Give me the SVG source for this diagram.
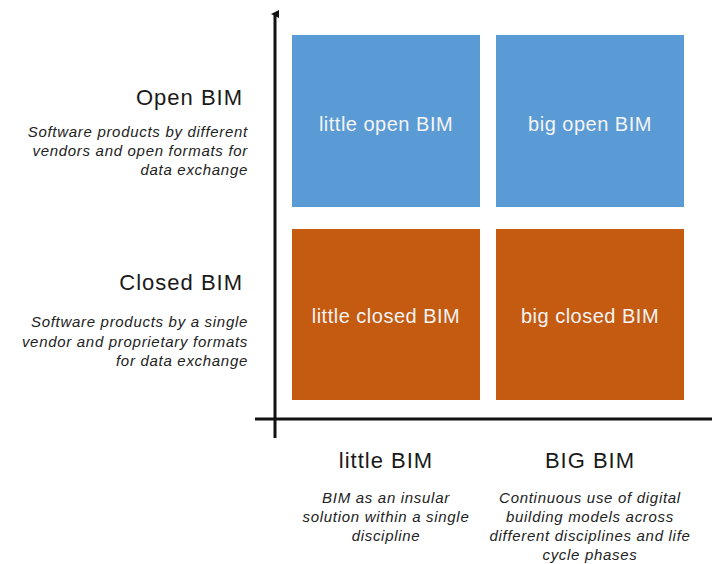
<svg xmlns="http://www.w3.org/2000/svg" width="712" height="564" viewBox="0 0 712 564">
<defs>
<style>
.h{font-family:"Liberation Sans",Arial,sans-serif;font-size:22px;letter-spacing:1px;fill:#1a1a1a}
.d{font-family:"Liberation Sans",Arial,sans-serif;font-size:15px;letter-spacing:0.7px;font-style:italic;fill:#222}
.b{font-family:"Liberation Sans",Arial,sans-serif;font-size:20px;letter-spacing:0.5px;fill:#f4f4f4;text-anchor:middle}
.blue{fill:#5b9bd5}
.orange{fill:#c55a11}
.ax{stroke:#111;stroke-width:3;fill:none}
</style>
<marker id="arr" markerWidth="8" markerHeight="8" refX="4" refY="4" orient="auto" markerUnits="userSpaceOnUse">
<path d="M0,8 L4,0 L8,8 Z" fill="#111"/>
</marker>
</defs>
<rect width="712" height="564" fill="#fff"/>
<g id="connectors">
<line class="ax" x1="275" y1="438" x2="275" y2="14" marker-end="url(#arr)"/>
<line class="ax" x1="255" y1="419" x2="712" y2="419"/>
</g>
<g id="little-open">
<rect class="blue" x="292" y="35" width="188" height="172"/>
<text class="b" x="386" y="131">little open BIM</text>
</g>
<g id="big-open">
<rect class="blue" x="496" y="35" width="188" height="172"/>
<text class="b" x="590" y="131">big open BIM</text>
</g>
<g id="little-closed">
<rect class="orange" x="292" y="229" width="188" height="171"/>
<text class="b" x="386" y="323">little closed BIM</text>
</g>
<g id="big-closed">
<rect class="orange" x="496" y="229" width="188" height="171"/>
<text class="b" x="590" y="323">big closed BIM</text>
</g>
<g id="open-label" text-anchor="end">
<text class="h" x="243" y="105">Open BIM</text>
<text class="d" x="248" y="137">Software products by different</text>
<text class="d" x="248" y="156">vendors and open formats for</text>
<text class="d" x="248" y="175">data exchange</text>
</g>
<g id="closed-label" text-anchor="end">
<text class="h" x="243" y="290">Closed BIM</text>
<text class="d" x="248" y="327">Software products by a single</text>
<text class="d" x="248" y="347">vendor and proprietary formats</text>
<text class="d" x="248" y="366">for data exchange</text>
</g>
<g id="little-label" text-anchor="middle">
<text class="h" x="386" y="468">little BIM</text>
<text class="d" x="386" y="503">BIM as an insular</text>
<text class="d" x="386" y="522">solution within a single</text>
<text class="d" x="386" y="541">discipline</text>
</g>
<g id="big-label" text-anchor="middle">
<text class="h" x="590" y="468">BIG BIM</text>
<text class="d" x="590" y="503">Continuous use of digital</text>
<text class="d" x="590" y="522">building models across</text>
<text class="d" x="590" y="541">different disciplines and life</text>
<text class="d" x="590" y="560">cycle phases</text>
</g>
</svg>
